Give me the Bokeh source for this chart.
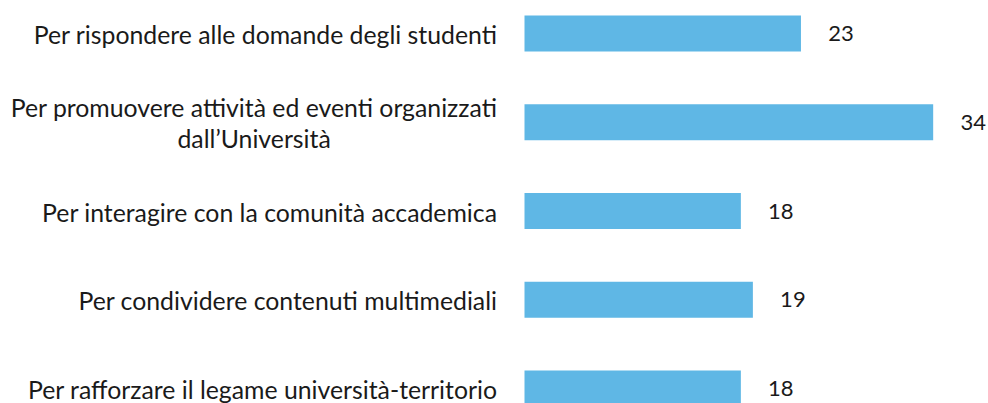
from bokeh.plotting import figure
from bokeh.models import Range1d, ColumnDataSource
from bokeh.core.properties import value
from bokeh.embed import file_html
from bokeh.resources import INLINE

categories = [
    "Per rispondere alle domande degli studenti",
    "Per promuovere attività ed eventi organizzati\ndall\u2019Università",
    "Per interagire con la comunità accademica",
    "Per condividere contenuti multimediali",
    "Per rafforzare il legame università-territorio",
]
values = [23, 34, 18, 19, 18]

BAR_COLOR = "#5FB7E5"
TEXT_COLOR = "#1a1a1a"
FONT = "Lato"

W, H = 988, 403
px_per_unit = 12.02
bar_start_px = 524  # from frame left
x0 = -bar_start_px / px_per_unit
x1 = x0 + W / px_per_unit

row_px = 88.75
first_center_px = 33  # from frame top
y_top = -first_center_px / row_px
y_bot = y_top + H / row_px

pos = list(range(len(categories)))
src = ColumnDataSource(dict(y=pos, v=values, cat=categories,
                            lab=[str(v) for v in values]))

p = figure(width=W, height=H, output_backend="svg", toolbar_location=None,
           x_range=Range1d(x0, x1), y_range=Range1d(y_bot, y_top),
           min_border=0, min_border_left=0, min_border_right=0,
           min_border_top=0, min_border_bottom=0)
p.axis.visible = False
p.grid.visible = False
p.outline_line_color = None
p.background_fill_color = "white"
p.border_fill_color = "white"

p.hbar(y="y", left=0, right="v", height=36 / row_px, source=src,
       fill_color=BAR_COLOR, line_color=None)

p.text(x=0, y="y", text="cat", source=src, x_offset=-27, y_offset=1,
       anchor="center_right", text_align="center", text_baseline="middle",
       text_font=value(FONT), text_font_size="24.8px", text_color=TEXT_COLOR,
       text_line_height=1.07)

p.text(x="v", y="y", text="lab", source=src, x_offset=40,
       text_align="center", text_baseline="middle",
       text_font=value(FONT), text_font_size="22px", text_color=TEXT_COLOR)

open("out.html", "w").write(file_html(p, INLINE))
